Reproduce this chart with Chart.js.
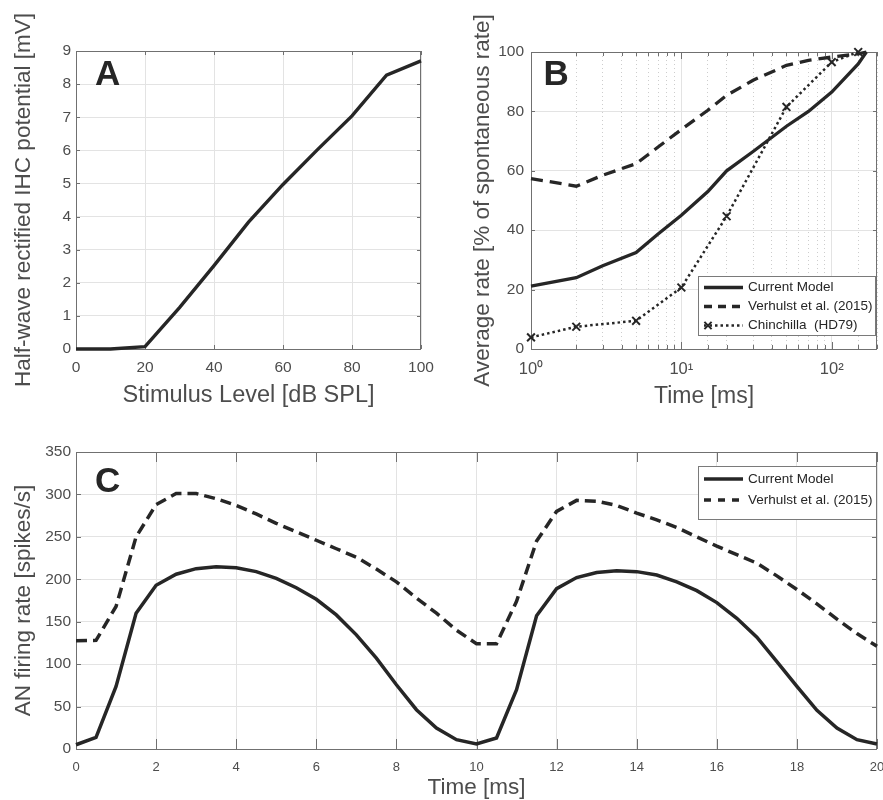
<!DOCTYPE html>
<html>
<head>
<meta charset="utf-8">
<script src="https://cdn.jsdelivr.net/npm/chart.js@4.4.1/dist/chart.umd.min.js"></script>
<style>
  html, body { margin: 0; background: #fff; overflow: hidden; }
  canvas { position: absolute; }
</style>
</head>
<body>
<canvas id="panelA" width="441" height="420" style="left:0;top:0"></canvas>
<canvas id="panelB" width="449" height="420" style="left:441px;top:0"></canvas>
<canvas id="panelC" width="890" height="420" style="left:0;top:400px"></canvas>
<script>
// panel A - IHC potential vs level
const levelA = [0, 10, 20, 30, 40, 50, 60, 70, 80, 90, 100];
const ihcA = [0, 0, 0.07, 1.25, 2.52, 3.83, 4.97, 6.02, 7.04, 8.27, 8.7];

// panel B - recovery, log time axis
const timeB = [1, 2, 3, 5, 7, 10, 15, 20, 30, 50, 70, 100, 150, 170];
const currentB = [21.2, 24, 28, 32.5, 38.7, 45, 53, 60, 66.5, 75, 80, 86.5, 96, 100];
const verhulstB = [57.4, 54.8, 58.5, 62.4, 68, 73.9, 80.4, 85.4, 90.5, 95.5, 97.2, 98.3, 99.4, 100];
const chinTime = [1, 2, 5, 10, 20, 50, 100, 150];
const chinRate = [3.9, 7.5, 9.5, 20.7, 44.7, 81.5, 96.6, 100];
const logLabels = { 1: '10⁰', 10: '10¹', 100: '10²' };

// panel C - AN firing rate over two periods
const timeC = [0, 0.5, 1, 1.5, 2, 2.5, 3, 3.5, 4, 4.5, 5, 5.5, 6, 6.5, 7, 7.5, 8, 8.5, 9, 9.5, 10,
  10.5, 11, 11.5, 12, 12.5, 13, 13.5, 14, 14.5, 15, 15.5, 16, 16.5, 17, 17.5, 18, 18.5, 19, 19.5, 20];
const currentC = [5, 13.7, 73.7, 160, 193, 206, 212.5, 214.8, 213.6, 209, 201, 190, 176.4, 158, 134.5, 107, 75.7, 46.3, 24.7, 11, 5.9,
  13, 70, 157, 189, 202, 208, 210, 209, 205, 197, 186.6, 172.5, 154, 131.7, 103, 73.7, 45.5, 24.7, 11, 5.9];
const verhulstC = [127.5, 128, 168, 250, 288, 301, 301, 295, 287, 277, 266, 256, 246, 236, 226, 212, 197, 178, 160, 140, 124,
  124, 174, 245, 280, 293, 292, 287, 278, 270, 261, 250, 239, 229, 219, 204, 188, 171, 153, 136, 121];

const FONT = '"Liberation Sans", Helvetica, Arial, sans-serif';
const INK = '#262626';
const TXT = '#4d4d4d';
const GRID = '#e3e3e3';
const AXIS = '#707070';
const NONE = 'rgba(0,0,0,0)';

const pts = (xs, ys) => xs.map((x, i) => ({ x: x, y: ys[i] }));

// MATLAB style box with ticks pointing inwards
const frame = {
  id: 'frame',
  beforeDatasetsDraw(chart, args, o) {
    const { ctx, chartArea: a, scales: { x, y } } = chart;
    ctx.save();
    ctx.strokeStyle = AXIS;
    ctx.lineWidth = 1;
    ctx.beginPath();
    x.ticks.forEach(t => {
      const px = Math.round(x.getPixelForValue(t.value)) + 0.5;
      const len = o.isMinor && o.isMinor(t.value) ? o.xMinor : o.xLen;
      ctx.moveTo(px, a.bottom); ctx.lineTo(px, a.bottom - len);
      ctx.moveTo(px, a.top); ctx.lineTo(px, a.top + len);
    });
    y.ticks.forEach(t => {
      const py = Math.round(y.getPixelForValue(t.value)) + 0.5;
      ctx.moveTo(a.left, py); ctx.lineTo(a.left + o.yLen, py);
      ctx.moveTo(a.right, py); ctx.lineTo(a.right - o.yLen, py);
    });
    ctx.stroke();
    ctx.strokeRect(a.left + 0.5, a.top + 0.5, a.right - a.left - 1, a.bottom - a.top);
    ctx.restore();
  }
};

const letter = {
  id: 'letter',
  afterDatasetsDraw(chart, args, o) {
    const { ctx, chartArea: a } = chart;
    ctx.save();
    ctx.font = 'bold 35px ' + FONT;
    ctx.fillStyle = INK;
    ctx.textBaseline = 'alphabetic';
    ctx.fillText(o.text, a.left + o.dx, a.top + o.dy);
    ctx.restore();
  }
};

const legendBox = {
  id: 'legendBox',
  afterDraw(chart, args, o) {
    const { ctx } = chart;
    ctx.save();
    ctx.fillStyle = '#fff';
    ctx.fillRect(o.x, o.y, o.w, o.h);
    ctx.strokeStyle = '#7a7a7a';
    ctx.lineWidth = 1;
    ctx.strokeRect(o.x + 0.5, o.y + 0.5, o.w, o.h);
    ctx.font = '13.5px ' + FONT;
    ctx.textBaseline = 'middle';
    chart.data.datasets.forEach((ds, i) => {
      const cy = o.y + o.row0 + i * o.rowH;
      ctx.strokeStyle = ds.borderColor;
      ctx.lineWidth = ds.borderWidth;
      ctx.setLineDash(ds.legendDash || []);
      ctx.beginPath();
      ctx.moveTo(o.x + 6, cy);
      ctx.lineTo(o.x + 45, cy);
      ctx.stroke();
      ctx.setLineDash([]);
      if (ds.pointStyle === 'crossRot') {
        const r = 3.6;
        ctx.lineWidth = 2;
        ctx.beginPath();
        ctx.moveTo(o.x + 10 - r, cy - r); ctx.lineTo(o.x + 10 + r, cy + r);
        ctx.moveTo(o.x + 10 - r, cy + r); ctx.lineTo(o.x + 10 + r, cy - r);
        ctx.stroke();
      }
      ctx.fillStyle = INK;
      ctx.fillText(ds.label, o.x + 50, cy);
    });
    ctx.restore();
  }
};

const tickFont = size => ({ family: FONT, size: size });
const titleOpts = (text, size, pad) => ({ display: true, text: text, color: TXT, font: { family: FONT, size: size }, padding: pad });
// x labels are pushed down with an invisible tick so the label padding does not eat the plot width
const xGrid = gap => ({ color: GRID, drawTicks: true, tickLength: gap, tickColor: NONE });
const base = padding => ({
  responsive: false,
  animation: false,
  events: [],
  layout: { padding: padding },
});

// ---- A
new Chart(document.getElementById('panelA'), {
  type: 'line',
  data: {
    datasets: [{
      label: 'IHC', data: pts(levelA, ihcA),
      borderColor: INK, borderWidth: 3.4, pointRadius: 0, clip: 6
    }]
  },
  options: Object.assign(base({ left: 0, top: 51, right: 20, bottom: 0 }), {
    plugins: {
      legend: { display: false }, tooltip: { enabled: false },
      frame: { xLen: 4, yLen: 4 },
      letter: { text: 'A', dx: 19, dy: 34 }
    },
    scales: {
      x: {
        type: 'linear', min: 0, max: 100,
        afterFit: s => { s.height = 71; },
        ticks: { stepSize: 20, padding: 0, color: TXT, font: tickFont(15.5) },
        grid: xGrid(9), border: { display: false },
        title: titleOpts('Stimulus Level [dB SPL]', 23.5, { top: 0, bottom: 10.4 })
      },
      y: {
        min: 0, max: 9,
        afterFit: s => { s.width = 76; },
        ticks: { stepSize: 1, padding: 5, color: TXT, font: tickFont(15.5) },
        grid: { color: GRID, drawTicks: false }, border: { display: false },
        title: titleOpts('Half-wave rectified IHC potential [mV]', 22.5, { top: 10.5, bottom: 0 })
      }
    }
  }),
  plugins: [frame, letter]
});

// ---- B
const isMajorLog = v => v === 1 || v === 10 || v === 100;
new Chart(document.getElementById('panelB'), {
  type: 'line',
  data: {
    datasets: [
      { label: 'Current Model', data: pts(timeB, currentB), borderColor: INK, borderWidth: 3.3, pointRadius: 0, clip: 6 },
      { label: 'Verhulst et al. (2015)', data: pts(timeB, verhulstB), borderColor: INK, borderWidth: 3.3,
        borderDash: [12, 7], legendDash: [8, 6], pointRadius: 0, clip: 6 },
      { label: 'Chinchilla  (HD79)', data: pts(chinTime, chinRate), borderColor: INK, borderWidth: 2.5,
        borderDash: [2.5, 3], legendDash: [2.5, 3], pointStyle: 'crossRot', pointRadius: 5.5, pointBorderWidth: 2,
        pointBorderColor: INK, pointBackgroundColor: NONE, clip: 8 }
    ]
  },
  options: Object.assign(base({ left: 0, top: 52, right: 13, bottom: 0 }), {
    plugins: {
      legend: { display: false }, tooltip: { enabled: false },
      frame: { xLen: 7, xMinor: 4, yLen: 4, isMinor: v => !isMajorLog(v) },
      letter: { text: 'B', dx: 12.6, dy: 33 },
      legendBox: { x: 257, y: 276, w: 177, h: 59, row0: 11.5, rowH: 19 }
    },
    scales: {
      x: {
        type: 'logarithmic', min: 1, max: 200,
        afterFit: s => { s.height = 71; },
        ticks: {
          autoSkip: false, maxRotation: 0, padding: 0, color: TXT, font: tickFont(16.5),
          callback: v => logLabels[v] || ''
        },
        grid: {
          drawTicks: true, tickLength: 11, tickColor: NONE,
          color: c => (c.tick && isMajorLog(c.tick.value)) ? GRID : '#cdcdcd'
        },
        border: { display: false, dash: c => (c.tick && isMajorLog(c.tick.value)) ? [] : [1, 3] },
        title: titleOpts('Time [ms]', 23, { top: 0, bottom: 10 })
      },
      y: {
        min: 0, max: 100,
        afterFit: s => { s.width = 90; },
        ticks: { stepSize: 20, padding: 7, color: TXT, font: tickFont(15.5) },
        grid: { color: GRID, drawTicks: false }, border: { display: false },
        title: titleOpts('Average rate [% of spontaneous rate]', 22.5, { top: 28, bottom: 0 })
      }
    }
  }),
  plugins: [frame, letter, legendBox]
});

// ---- C
new Chart(document.getElementById('panelC'), {
  type: 'line',
  data: {
    datasets: [
      { label: 'Current Model', data: pts(timeC, currentC), borderColor: INK, borderWidth: 3.5, pointRadius: 0, clip: 6 },
      { label: 'Verhulst et al. (2015)', data: pts(timeC, verhulstC), borderColor: INK, borderWidth: 3.5,
        borderDash: [11, 6], legendDash: [7, 7], pointRadius: 0, clip: 6 }
    ]
  },
  options: Object.assign(base({ left: 0, top: 52, right: 13, bottom: 0 }), {
    plugins: {
      legend: { display: false }, tooltip: { enabled: false },
      frame: { xLen: 10, yLen: 5 },
      letter: { text: 'C', dx: 19, dy: 40 },
      legendBox: { x: 698, y: 66, w: 178, h: 53, row0: 13, rowH: 21 }
    },
    scales: {
      x: {
        type: 'linear', min: 0, max: 20,
        afterFit: s => { s.height = 71; },
        ticks: { stepSize: 2, padding: 0, color: TXT, font: tickFont(13) },
        grid: xGrid(11), border: { display: false },
        title: titleOpts('Time [ms]', 22.5, { top: 0, bottom: 18.5 })
      },
      y: {
        min: 0, max: 350,
        afterFit: s => { s.width = 76; },
        ticks: { stepSize: 50, padding: 5, color: TXT, font: tickFont(15.5) },
        grid: { color: GRID, drawTicks: false }, border: { display: false },
        title: titleOpts('AN firing rate [spikes/s]', 22.5, { top: 10.5, bottom: 0 })
      }
    }
  }),
  plugins: [frame, letter, legendBox]
});
</script>
</body>
</html>
